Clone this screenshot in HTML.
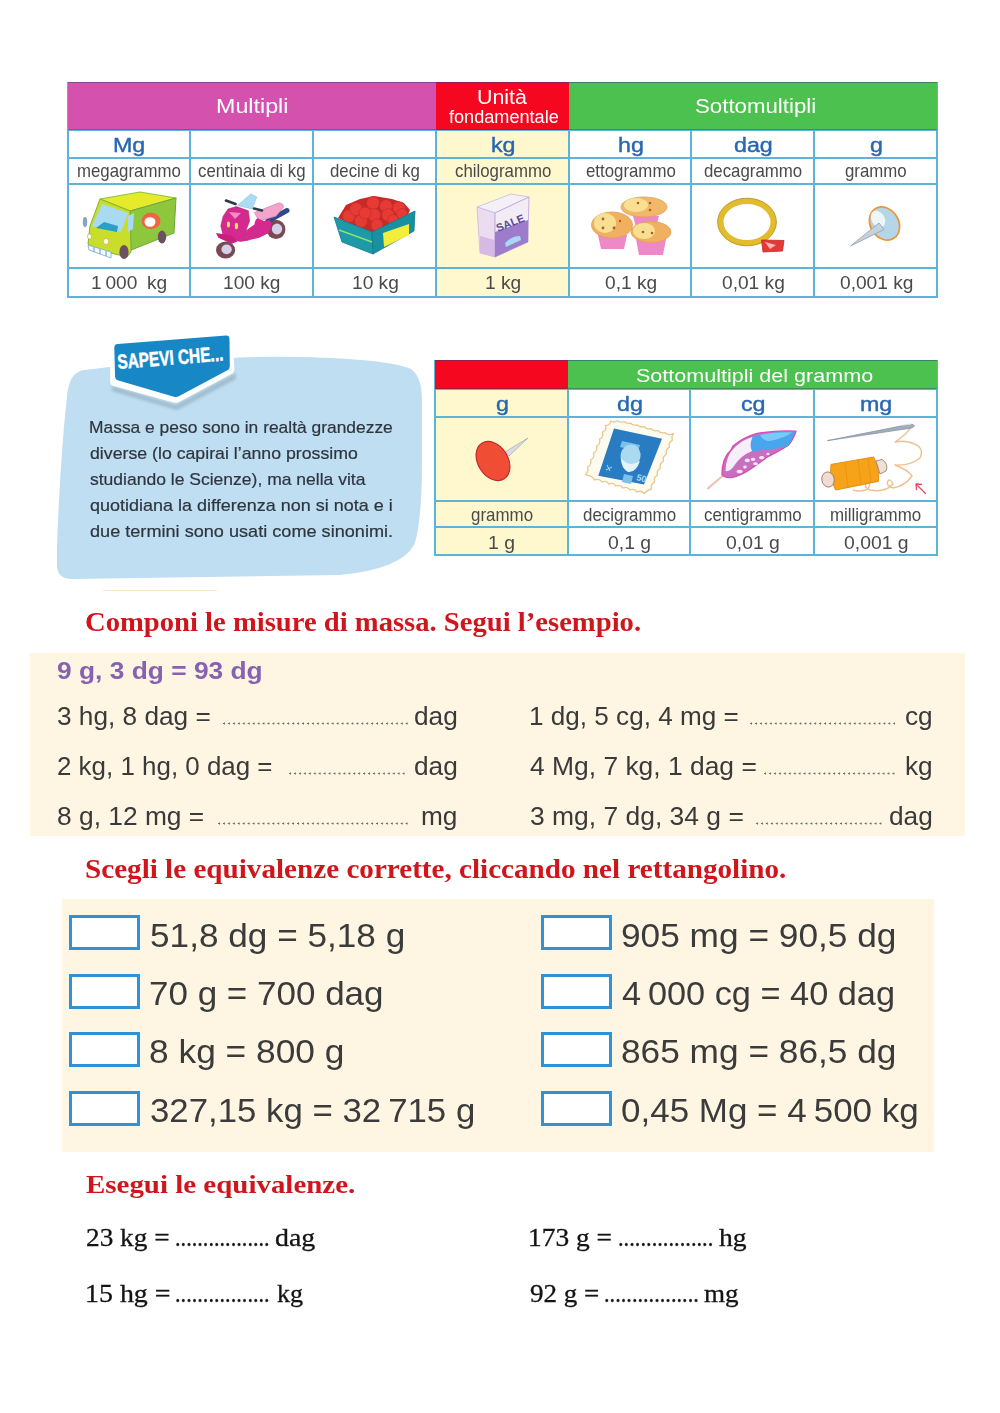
<!DOCTYPE html>
<html><head><meta charset="utf-8"><title>Massa</title><style>
*{margin:0;padding:0}
html,body{width:1000px;height:1413px;background:#fff;overflow:hidden}
body{position:relative;font-family:"Liberation Sans",sans-serif}
.a{position:absolute}
.t{position:absolute;white-space:nowrap;transform-origin:0 0}
</style></head><body>
<div class="a" style="left:436.00px;top:129.00px;width:133.00px;height:168.00px;background:#fff8cf;"></div>
<svg class="a" style="left:0;top:0" width="1000" height="300" viewBox="0 0 1000 300">
<g stroke-linejoin="round">
 <!-- van -->
 <path d="M100 199 L140 192 L176 198 L130 211 Z" fill="#e6ea2c" stroke="#8cc63f" stroke-width="1.2"/>
 <path d="M130 211 L176 198 L174 233 L131 250 Z" fill="#8ec63d" stroke="#6aa83a" stroke-width="1"/>
 <path d="M100 199 L130 211 L131 252 L127 257 L95 249 L88 244 L90 226 Z" fill="#c9de2a" stroke="#7fb43a" stroke-width="1"/>
 <path d="M92 226 L102 204 L128 213 L121 232 Z" fill="#a8daf2"/>
 <path d="M96 228 L104 222 L118 226 L117 232 Z" fill="#2aa0c8"/>
 <path d="M128 216 L134 213 L133 229 L128 232 Z" fill="#a8daf2"/>
 <ellipse cx="151" cy="221" rx="9.5" ry="8.3" fill="#ee6544"/>
 <ellipse cx="150" cy="222" rx="5.5" ry="4.8" fill="#fff"/>
 <path d="M88 245 L111 252 L111 258 L89 250 Z" fill="#f4f8fa" stroke="#7aa8c8" stroke-width="0.8"/>
 <path d="M94 247 L94 252 M100 249 L100 254 M106 251 L106 256" stroke="#5aa0c8" stroke-width="1"/>
 <ellipse cx="89.5" cy="236.5" rx="2.2" ry="2.6" fill="#fff" stroke="#c8a040" stroke-width="0.6"/>
 <ellipse cx="106" cy="241.5" rx="2.6" ry="3" fill="#fff" stroke="#c8a040" stroke-width="0.6"/>
 <ellipse cx="124" cy="252" rx="4.6" ry="7" fill="#6a5262"/>
 <ellipse cx="162" cy="237" rx="4.2" ry="6.4" fill="#6a5262"/>
 <ellipse cx="85" cy="222" rx="2.2" ry="5" fill="#8aa0c8"/>
 <!-- scooter -->
 <ellipse cx="276" cy="229.4" rx="9.4" ry="9.6" fill="#7a4a52"/>
 <ellipse cx="277" cy="229" rx="5.2" ry="5.4" fill="#d4d0e8"/>
 <path d="M237.6 205.4 L250.8 194 L256.8 197 L252 209 Z" fill="#aadcf4" stroke="#88c0e0" stroke-width="0.6"/>
 <path d="M268 221 L287 210.5" stroke="#2e4a86" stroke-width="5" stroke-linecap="round"/>
 <path d="M254.4 212.6 L278.4 203 Q284 203 283.2 207.6 L276 216.2 L259.2 221 Z" fill="#f3a4cc" stroke="#d870a8" stroke-width="0.6"/>
 <path d="M246 230.6 L254.4 224.6 Q256 216 259.2 219 L264 221 L270 220 Q273 226 268.8 233 L259.2 237.8 L248.4 240.2 Z" fill="#d42a8e"/>
 <path d="M228 209 L236.4 206.6 L248.4 210.8 L249.6 221 L246 230.6 L248.4 240.2 L240 241.4 L231.6 239 L223.2 235.4 L220.8 225.8 L223.2 216.2 Z" fill="#d42a8e" stroke="#b81e78" stroke-width="0.6"/>
 <path d="M229 212 L241 213 L235 219 Z" fill="#f48cc4"/>
 <path d="M216 233 L231.6 235.4 L237.6 241.4 L231.6 243.8 L218.4 237.8 Z" fill="#c8207e"/>
 <ellipse cx="225.6" cy="250" rx="9.6" ry="8.6" fill="#7a4a52"/>
 <ellipse cx="226.6" cy="249.4" rx="5.2" ry="4.8" fill="#d4d0e8"/>
 <path d="M226 200.5 L235.5 204 M254 208.5 L262 210.5" stroke="#2a3a4a" stroke-width="2.6" stroke-linecap="round"/>
 <ellipse cx="228.4" cy="224.6" rx="1.5" ry="3" fill="#f8e070"/>
 <ellipse cx="236.4" cy="226" rx="1.6" ry="3.2" fill="#f8e070"/>
 <!-- apples box -->
 <path d="M334 217 L372 232 L415 211 L413 226 L373 248 Z" fill="#1a94a4"/>
 <path d="M338 218 L346 205 L360 199 L374 196 L392 199 L404 203 L410 210 L405 222 L373 234 Z" fill="#c82a2a"/>
 <g fill="#e63b35" stroke="#c42828" stroke-width="0.6">
  <circle cx="349" cy="216" r="6.5"/><circle cx="356" cy="209" r="6.5"/><circle cx="373" cy="203" r="6.5"/>
  <circle cx="386" cy="206" r="6.3"/><circle cx="399" cy="208" r="6.3"/><circle cx="361" cy="221" r="6.5"/>
  <circle cx="374" cy="215" r="6.5"/><circle cx="388" cy="215" r="6.3"/><circle cx="402" cy="214" r="5.5"/>
  <circle cx="377" cy="225" r="6"/><circle cx="365" cy="213" r="6"/><circle cx="393" cy="220" r="5.5"/>
 </g>
 <path d="M334 217 L372 232 L373 254 L342 242 Z" fill="#1d9aa8" stroke="#147a88" stroke-width="0.8"/>
 <path d="M372 232 L415 211 L414 231 L373 254 Z" fill="#1790a2" stroke="#147a88" stroke-width="0.8"/>
 <path d="M339 230 L372 242" stroke="#8ee07a" stroke-width="1.6"/>
 <path d="M383 233 L409 224 L409 235 L384 247 Z" fill="#f2ee3a"/>
 <!-- salt box -->
 <path d="M477 207 L511 194 L529 197 L495 213 Z" fill="#f4f0f8" stroke="#c8b8e0" stroke-width="0.8"/>
 <path d="M477 207 L495 213 L495 257 L480 253 Z" fill="#ecdcf0" stroke="#c8b8e0" stroke-width="0.8"/>
 <path d="M480 236 L495 240 L495 257 L480 253 Z" fill="#d8b8e4"/>
 <path d="M495 213 L529 197 L528 242 L495 257 Z" fill="#f2ecf4" stroke="#b8a0d8" stroke-width="0.8"/>
 <path d="M495 232 L528 220 L528 242 L495 257 Z" fill="#9e7ccc"/>
 <path d="M505 243 Q512 236 520 236 L521 240 L506 247 Z" fill="#a8d8f4"/>
 <text x="498" y="232" transform="rotate(-22 498 232)" font-family="Liberation Sans" font-weight="bold" font-size="11" fill="#5a4a9a">SALE</text>
 <!-- muffins -->
 <path d="M633 216 L659 216 L656 227 L636 227 Z" fill="#ee88c8"/>
 <ellipse cx="644" cy="207" rx="23" ry="10" fill="#f0b868" stroke="#e0a060" stroke-width="0.8"/>
 <ellipse cx="636" cy="205" rx="12" ry="7" fill="#f8df92"/>
 <path d="M598 235 L627 235 L624 249 L601 249 Z" fill="#ee88c8"/>
 <ellipse cx="612" cy="225" rx="20.5" ry="13" fill="#f0b060" stroke="#e0a060" stroke-width="0.8"/>
 <ellipse cx="605" cy="223" rx="11" ry="10" fill="#f8df92"/>
 <path d="M636 239 L666 239 L663 255 L639 255 Z" fill="#ee88c8"/>
 <ellipse cx="651" cy="232" rx="20" ry="10.5" fill="#f0b060" stroke="#e0a060" stroke-width="0.8"/>
 <ellipse cx="644" cy="231" rx="11" ry="8" fill="#f8df92"/>
 <g fill="#a8602a"><circle cx="603" cy="219" r="1.4"/><circle cx="603" cy="228" r="1.4"/><circle cx="614" cy="228" r="1.4"/><circle cx="620" cy="221" r="1.2"/><circle cx="638" cy="203" r="1.3"/><circle cx="650" cy="203" r="1.3"/><circle cx="650" cy="210" r="1.3"/><circle cx="643" cy="232" r="1.3"/><circle cx="652" cy="233" r="1.3"/></g>
 <!-- ring -->
 <ellipse cx="747" cy="222" rx="26.5" ry="21" fill="none" stroke="#e2bc2c" stroke-width="6"/>
 <ellipse cx="747" cy="222" rx="29.4" ry="23.8" fill="none" stroke="#b8922a" stroke-width="0.8"/>
 <path d="M761.5 240 L784 240.5 L782.5 251 L763 252 Z" fill="#e23a36" stroke="#c02828" stroke-width="0.8"/>
 <path d="M765 242 L776 245 L770 249 Z" fill="#f8b8b0"/>
 <!-- pushpin t1 -->
 <ellipse cx="884.5" cy="223.5" rx="14" ry="17.5" transform="rotate(-32 884.5 223.5)" fill="#b4d6e8" stroke="#ec963a" stroke-width="1.8"/>
 <ellipse cx="878" cy="219" rx="6.5" ry="9" transform="rotate(-32 878 219)" fill="#eef6fa"/>
 <path d="M850.5 246 L879 223 L884 229.5 Z" fill="#c4d2dc" stroke="#96a6b4" stroke-width="0.9"/>
</g>
</svg>
<div class="a" style="left:67.00px;top:128.00px;width:871.00px;height:2.00px;background:#5db3d8;"></div>
<div class="a" style="left:67.00px;top:157.00px;width:871.00px;height:2.00px;background:#5db3d8;"></div>
<div class="a" style="left:67.00px;top:183.00px;width:871.00px;height:2.00px;background:#5db3d8;"></div>
<div class="a" style="left:67.00px;top:267.00px;width:871.00px;height:2.00px;background:#5db3d8;"></div>
<div class="a" style="left:67.00px;top:296.00px;width:871.00px;height:2.00px;background:#5db3d8;"></div>
<div class="a" style="left:67.00px;top:128.00px;width:2.00px;height:170.00px;background:#5db3d8;"></div>
<div class="a" style="left:189.00px;top:128.00px;width:2.00px;height:170.00px;background:#5db3d8;"></div>
<div class="a" style="left:312.00px;top:128.00px;width:2.00px;height:170.00px;background:#5db3d8;"></div>
<div class="a" style="left:435.00px;top:128.00px;width:2.00px;height:170.00px;background:#5db3d8;"></div>
<div class="a" style="left:568.00px;top:128.00px;width:2.00px;height:170.00px;background:#5db3d8;"></div>
<div class="a" style="left:690.00px;top:128.00px;width:2.00px;height:170.00px;background:#5db3d8;"></div>
<div class="a" style="left:813.00px;top:128.00px;width:2.00px;height:170.00px;background:#5db3d8;"></div>
<div class="a" style="left:936.00px;top:128.00px;width:2.00px;height:170.00px;background:#5db3d8;"></div>
<div class="a" style="left:67.00px;top:81.50px;width:871.00px;height:49.00px;background:#5db3d8;"></div>
<div class="a" style="left:68.00px;top:82.00px;width:368.00px;height:48.00px;background:#d452ad;"></div>
<div class="a" style="left:436.00px;top:82.00px;width:133.00px;height:48.00px;background:#f4071f;"></div>
<div class="a" style="left:569.00px;top:82.00px;width:368.00px;height:48.00px;background:#4cc14f;"></div>
<div class="a" style="left:68.00px;top:82.00px;width:869.00px;height:1.20px;background:rgba(30,60,130,0.45);"></div>
<div class="a" style="left:68.00px;top:128.80px;width:869.00px;height:1.20px;background:rgba(30,60,110,0.35);"></div>
<div class="t" style="left:215.94px;top:96.94px;font-family:'Liberation Sans',sans-serif;font-weight:normal;font-size:19.5px;line-height:19.5px;color:#fff;transform:scaleX(1.1934)">Multipli</div>
<div class="t" style="left:694.65px;top:96.94px;font-family:'Liberation Sans',sans-serif;font-weight:normal;font-size:19.5px;line-height:19.5px;color:#fff;transform:scaleX(1.1410)">Sottomultipli</div>
<div class="t" style="left:477.25px;top:87.94px;font-family:'Liberation Sans',sans-serif;font-weight:normal;font-size:19.5px;line-height:19.5px;color:#fff;transform:scaleX(1.0960)">Unità</div>
<div class="t" style="left:448.93px;top:108.16px;font-family:'Liberation Sans',sans-serif;font-weight:normal;font-size:18.3px;line-height:18.3px;color:#fff;transform:scaleX(0.9909)">fondamentale</div>
<div class="t" style="left:113.17px;top:135.02px;font-family:'Liberation Sans',sans-serif;font-weight:normal;-webkit-text-stroke:0.4px #2767b0;font-size:20px;line-height:20px;color:#2767b0;transform:scaleX(1.1619)">Mg</div>
<div class="t" style="left:77.39px;top:161.79px;font-family:'Liberation Sans',sans-serif;font-weight:normal;font-size:18.5px;line-height:18.5px;color:#4a4a4a;transform:scaleX(0.9093)">megagrammo</div>
<div class="t" style="left:91.31px;top:273.36px;font-family:'Liberation Sans',sans-serif;font-weight:normal;font-size:19px;line-height:19px;color:#4a4a4a;transform:scaleX(1.0075)">1 000 kg</div>
<div class="t" style="left:198.46px;top:161.79px;font-family:'Liberation Sans',sans-serif;font-weight:normal;font-size:18.5px;line-height:18.5px;color:#4a4a4a;transform:scaleX(0.9093)">centinaia di kg</div>
<div class="t" style="left:223.19px;top:273.36px;font-family:'Liberation Sans',sans-serif;font-weight:normal;font-size:19px;line-height:19px;color:#4a4a4a;transform:scaleX(1.0075)">100 kg</div>
<div class="t" style="left:330.34px;top:161.79px;font-family:'Liberation Sans',sans-serif;font-weight:normal;font-size:18.5px;line-height:18.5px;color:#4a4a4a;transform:scaleX(0.9093)">decine di kg</div>
<div class="t" style="left:351.50px;top:273.36px;font-family:'Liberation Sans',sans-serif;font-weight:normal;font-size:19px;line-height:19px;color:#4a4a4a;transform:scaleX(1.0075)">10 kg</div>
<div class="t" style="left:490.74px;top:135.02px;font-family:'Liberation Sans',sans-serif;font-weight:normal;-webkit-text-stroke:0.4px #2767b0;font-size:20px;line-height:20px;color:#2767b0;transform:scaleX(1.1619)">kg</div>
<div class="t" style="left:454.85px;top:161.79px;font-family:'Liberation Sans',sans-serif;font-weight:normal;font-size:18.5px;line-height:18.5px;color:#4a4a4a;transform:scaleX(0.9093)">chilogrammo</div>
<div class="t" style="left:484.81px;top:273.36px;font-family:'Liberation Sans',sans-serif;font-weight:normal;font-size:19px;line-height:19px;color:#4a4a4a;transform:scaleX(1.0075)">1 kg</div>
<div class="t" style="left:617.54px;top:135.02px;font-family:'Liberation Sans',sans-serif;font-weight:normal;-webkit-text-stroke:0.4px #2767b0;font-size:20px;line-height:20px;color:#2767b0;transform:scaleX(1.1619)">hg</div>
<div class="t" style="left:585.63px;top:161.79px;font-family:'Liberation Sans',sans-serif;font-weight:normal;font-size:18.5px;line-height:18.5px;color:#4a4a4a;transform:scaleX(0.9093)">ettogrammo</div>
<div class="t" style="left:604.66px;top:273.36px;font-family:'Liberation Sans',sans-serif;font-weight:normal;font-size:19px;line-height:19px;color:#4a4a4a;transform:scaleX(1.0075)">0,1 kg</div>
<div class="t" style="left:733.94px;top:135.02px;font-family:'Liberation Sans',sans-serif;font-weight:normal;-webkit-text-stroke:0.4px #2767b0;font-size:20px;line-height:20px;color:#2767b0;transform:scaleX(1.1619)">dag</div>
<div class="t" style="left:703.92px;top:161.79px;font-family:'Liberation Sans',sans-serif;font-weight:normal;font-size:18.5px;line-height:18.5px;color:#4a4a4a;transform:scaleX(0.9093)">decagrammo</div>
<div class="t" style="left:721.84px;top:273.36px;font-family:'Liberation Sans',sans-serif;font-weight:normal;font-size:19px;line-height:19px;color:#4a4a4a;transform:scaleX(1.0075)">0,01 kg</div>
<div class="t" style="left:869.84px;top:135.02px;font-family:'Liberation Sans',sans-serif;font-weight:normal;-webkit-text-stroke:0.4px #2767b0;font-size:20px;line-height:20px;color:#2767b0;transform:scaleX(1.1619)">g</div>
<div class="t" style="left:845.17px;top:161.79px;font-family:'Liberation Sans',sans-serif;font-weight:normal;font-size:18.5px;line-height:18.5px;color:#4a4a4a;transform:scaleX(0.9093)">grammo</div>
<div class="t" style="left:839.53px;top:273.36px;font-family:'Liberation Sans',sans-serif;font-weight:normal;font-size:19px;line-height:19px;color:#4a4a4a;transform:scaleX(1.0075)">0,001 kg</div>
<div class="a" style="left:435.00px;top:388.00px;width:133.00px;height:167.00px;background:#fff8cf;"></div>
<svg class="a" style="left:0;top:400px" width="1000" height="110" viewBox="0 400 1000 110">
<g stroke-linejoin="round">
 <!-- red pin -->
 <path d="M505 452 L528 438 L509 456 Z" fill="#d8dde2" stroke="#a8b0b8" stroke-width="0.8"/>
 <ellipse cx="493" cy="461" rx="15" ry="21" transform="rotate(-32 493 461)" fill="#f04e34" stroke="#c0282a" stroke-width="1.2"/>
 <!-- stamp -->
 <path d="M617.4 420.8 Q621 423 624 421.5 Q627 424 630.5 423 Q633 426 637 424.8 Q640 428 644 426.5 Q647 430 651 428.5 Q654 432 658 430.5 Q661 434 665 432.5 Q668 436 673.5 433.6 Q671 437 672.5 440 Q668 443 669.5 447 Q665 450 666.5 454 Q662 457 663.5 461 Q659 464 660.5 468 Q656 471 657.5 475 Q653 478 654.5 482 Q650 485 651.5 489 Q647 490 644.2 493.5 Q641 490 637 492 Q634 488 630 490 Q627 486 623 488 Q620 484 616 486 Q613 482 609 484 Q606 480 602 482 Q599 478 595 480 Q592 476 585.5 474.4 Q589 471 587.5 467 Q592 465 590.5 460 Q595 458 593.5 453 Q598 451 596.5 446 Q601 444 599.5 439 Q604 437 602.5 432 Q607 430 605.5 425.5 Q611 425 610.5 421 Q614 423 617.4 420.8 Z" fill="#fdfaf0" stroke="#e6c88c" stroke-width="1.3"/>
 <path d="M614 428.5 L662 438.7 L644 484.6 L598.3 475.7 Z" fill="#2a7cc2"/>
 <path d="M622 441 L640 445 L638 451 L620 447 Z" fill="#7cc0ec"/>
 <ellipse cx="630.5" cy="456" rx="10" ry="11.5" transform="rotate(12 630.5 456)" fill="#a9daf2"/>
 <path d="M621 458 Q629 468 640 461 Q636 473 628 472 Q621 468 621 458 Z" fill="#e4f4fc"/>
 <path d="M624 474 L633 476 L631 484 L622 482 Z" fill="#7cc0ec"/>
 <text x="636" y="480" font-family="Liberation Sans" font-weight="bold" font-size="9" fill="#a9daf2" transform="rotate(14 636 480)">50</text>
 <path d="M606 470 L612 467 M607 465 L610 471" stroke="#a9daf2" stroke-width="1"/>
 <!-- feather -->
 <path d="M708 488.4 L723 475.5" stroke="#ecc6b4" stroke-width="2.2" stroke-linecap="round"/>
 <path d="M722 474.5 Q722 458 731 450 L733 446 Q744 437 757 433.4 Q777 430 796 431.2 Q793 440 788 445.5 Q778 452 768 456.5 Q758 464 749.5 469.7 Q740 476 731 477.6 Q724 478 722 474.5 Z" fill="#c870c0" stroke="#d24eb2" stroke-width="1.4"/>
 <path d="M752.5 436.8 Q775 430.5 795 431.4 Q792 440 788 446.2 Q770 450 752 451.2 Q748 444 752.5 436.8 Z" fill="#48a6ee"/>
 <path d="M760 435 Q778 431.5 792 432.5 Q785 438 770 441 Q763 441 760 435 Z" fill="#7cc8f8"/>
 <path d="M725.5 471 Q726 455 735 447 Q744 439 752.5 437 Q749 445 752 451 Q740 456 734 466 Q730 472 725.5 471 Z" fill="#f6eef8"/>
 <g fill="#f6e8f6"><ellipse cx="747.3" cy="460.4" rx="2.6" ry="1.8"/><ellipse cx="753" cy="459.3" rx="2.3" ry="1.6"/><ellipse cx="761.6" cy="457.6" rx="2.6" ry="1.7"/><ellipse cx="755.5" cy="463.7" rx="2.3" ry="1.5"/><ellipse cx="739.6" cy="471.5" rx="3" ry="1.8"/><ellipse cx="745" cy="467" rx="1.8" ry="1.4"/><ellipse cx="768" cy="454" rx="1.6" ry="1.2"/></g>
 <!-- needle & thread -->
 <path d="M912.5 425.3 Q905 436 895 442 Q905 440 912 443 Q925 447 920 458 Q910 466 895 465 Q908 470 912 476 Q905 486 893 488 Q885 485 888 481 Q890 478 893 484 Q885 493 870 490 Q862 486 868 482 Q872 486 866 490 Q858 492 853 490" stroke="#f0bf92" stroke-width="1.4" fill="none"/>
 <path d="M827.5 440.6 L910 424.2 Q914 424 914.5 426 Q913 428 910 428.3 Z" fill="#a0acbc" stroke="#8896a8" stroke-width="0.8"/>
 <path d="M902 425.2 L911 424.3" stroke="#e8eef4" stroke-width="0.8"/>
 <path d="M831 464.4 L873.6 457 Q880 468 878.4 481.4 L835.7 490 Q829 478 831 464.4 Z" fill="#f6a31a" stroke="#e2880e" stroke-width="0.9"/>
 <path d="M876 461 L882 459.5 Q889 464 886 471 L880 474 Z" fill="#efe0d6" stroke="#9a8078" stroke-width="0.9"/>
 <path d="M845 462 L848 488 M858 459.5 L861 485.5 M868 458 L871 483" stroke="#ee9212" stroke-width="1"/>
 <ellipse cx="828" cy="479.5" rx="6.2" ry="7.6" transform="rotate(-10 828 479.5)" fill="#f0dcd2" stroke="#9a7a70" stroke-width="0.9"/>
 <path d="M916 484 L925.5 493.5 M916 484 L916.5 489.5 M916 484 L921.5 484.5" stroke="#e44a64" stroke-width="1.3" stroke-linecap="round"/>
</g>
</svg>
<div class="a" style="left:434.00px;top:387.00px;width:504.00px;height:2.00px;background:#5db3d8;"></div>
<div class="a" style="left:434.00px;top:416.00px;width:504.00px;height:2.00px;background:#5db3d8;"></div>
<div class="a" style="left:434.00px;top:500.00px;width:504.00px;height:2.00px;background:#5db3d8;"></div>
<div class="a" style="left:434.00px;top:526.00px;width:504.00px;height:2.00px;background:#5db3d8;"></div>
<div class="a" style="left:434.00px;top:554.00px;width:504.00px;height:2.00px;background:#5db3d8;"></div>
<div class="a" style="left:434.00px;top:387.00px;width:2.00px;height:169.00px;background:#5db3d8;"></div>
<div class="a" style="left:567.00px;top:387.00px;width:2.00px;height:169.00px;background:#5db3d8;"></div>
<div class="a" style="left:689.00px;top:387.00px;width:2.00px;height:169.00px;background:#5db3d8;"></div>
<div class="a" style="left:813.00px;top:387.00px;width:2.00px;height:169.00px;background:#5db3d8;"></div>
<div class="a" style="left:936.00px;top:387.00px;width:2.00px;height:169.00px;background:#5db3d8;"></div>
<div class="a" style="left:434.00px;top:359.50px;width:504.00px;height:30.00px;background:#5db3d8;"></div>
<div class="a" style="left:435.00px;top:360.00px;width:133.00px;height:29.00px;background:#f4071f;"></div>
<div class="a" style="left:568.00px;top:360.00px;width:369.00px;height:29.00px;background:#4cc14f;"></div>
<div class="a" style="left:435.00px;top:360.00px;width:502.00px;height:1.20px;background:rgba(30,60,130,0.45);"></div>
<div class="a" style="left:435.00px;top:387.80px;width:502.00px;height:1.20px;background:rgba(30,60,110,0.35);"></div>
<div class="t" style="left:636.38px;top:366.36px;font-family:'Liberation Sans',sans-serif;font-weight:normal;font-size:19px;line-height:19px;color:#fff;transform:scaleX(1.1341)">Sottomultipli del grammo</div>
<div class="t" style="left:495.84px;top:394.02px;font-family:'Liberation Sans',sans-serif;font-weight:normal;-webkit-text-stroke:0.4px #2767b0;font-size:20px;line-height:20px;color:#2767b0;transform:scaleX(1.1619)">g</div>
<div class="t" style="left:471.00px;top:505.99px;font-family:'Liberation Sans',sans-serif;font-weight:normal;font-size:18.5px;line-height:18.5px;color:#4a4a4a;transform:scaleX(0.9144)">grammo</div>
<div class="t" style="left:488.44px;top:533.36px;font-family:'Liberation Sans',sans-serif;font-weight:normal;font-size:19px;line-height:19px;color:#4a4a4a;transform:scaleX(1.0195)">1 g</div>
<div class="t" style="left:616.89px;top:394.02px;font-family:'Liberation Sans',sans-serif;font-weight:normal;-webkit-text-stroke:0.4px #2767b0;font-size:20px;line-height:20px;color:#2767b0;transform:scaleX(1.1619)">dg</div>
<div class="t" style="left:582.98px;top:505.99px;font-family:'Liberation Sans',sans-serif;font-weight:normal;font-size:18.5px;line-height:18.5px;color:#4a4a4a;transform:scaleX(0.9144)">decigrammo</div>
<div class="t" style="left:608.19px;top:533.36px;font-family:'Liberation Sans',sans-serif;font-weight:normal;font-size:19px;line-height:19px;color:#4a4a4a;transform:scaleX(1.0195)">0,1 g</div>
<div class="t" style="left:740.53px;top:394.02px;font-family:'Liberation Sans',sans-serif;font-weight:normal;-webkit-text-stroke:0.4px #2767b0;font-size:20px;line-height:20px;color:#2767b0;transform:scaleX(1.1619)">cg</div>
<div class="t" style="left:703.61px;top:505.99px;font-family:'Liberation Sans',sans-serif;font-weight:normal;font-size:18.5px;line-height:18.5px;color:#4a4a4a;transform:scaleX(0.9144)">centigrammo</div>
<div class="t" style="left:725.82px;top:533.36px;font-family:'Liberation Sans',sans-serif;font-weight:normal;font-size:19px;line-height:19px;color:#4a4a4a;transform:scaleX(1.0195)">0,01 g</div>
<div class="t" style="left:859.85px;top:394.02px;font-family:'Liberation Sans',sans-serif;font-weight:normal;-webkit-text-stroke:0.4px #2767b0;font-size:20px;line-height:20px;color:#2767b0;transform:scaleX(1.1619)">mg</div>
<div class="t" style="left:830.20px;top:505.99px;font-family:'Liberation Sans',sans-serif;font-weight:normal;font-size:18.5px;line-height:18.5px;color:#4a4a4a;transform:scaleX(0.9144)">milligrammo</div>
<div class="t" style="left:843.94px;top:533.36px;font-family:'Liberation Sans',sans-serif;font-weight:normal;font-size:19px;line-height:19px;color:#4a4a4a;transform:scaleX(1.0195)">0,001 g</div>

<svg class="a" style="left:0;top:0" width="1000" height="620" viewBox="0 0 1000 620">
  <path d="M84 370 Q200 355 300 357 Q388 359 411 369 Q422 377 422 400 L422 470 Q421 528 414 545 Q401 569 340 575 L72 579 Q57 579 57 565 L57 548 Q60 460 67 396 Q69 372 84 370 Z" fill="#bfdef1"/>
  <defs><filter id="bl" x="-20%" y="-20%" width="140%" height="140%"><feGaussianBlur stdDeviation="1.6"/></filter></defs>
  <path d="M112 386 L176 405 L236 373 L236 379 L177 410 L112 391 Z" fill="#345" opacity="0.22" filter="url(#bl)"/>
  <path d="M110 345 Q110 341 114 340.7 L229 332 Q233 331.8 233.3 336 L234.3 369 Q234.4 372.5 231.5 374 L179.5 401.8 Q176.6 403.4 173.5 402.5 L113.5 386 Q110.2 385 110.2 381.5 Z" fill="#fff"/>
  <path d="M114.3 348 Q114.2 344.2 117.8 344 L226 335.6 Q229.4 335.4 229.5 339 L229.8 366 Q229.8 369 227.4 370.3 L178.3 396.6 Q176.6 397.4 174.8 396.9 L117.6 380.2 Q115.2 379.4 115.1 376.8 Z" fill="#1887c5"/>
  <text x="118" y="369" transform="rotate(-4.6 118 369)" fill="#fff" font-family="Liberation Sans" font-weight="bold" font-size="20.5" stroke="#fff" stroke-width="0.5" textLength="106" lengthAdjust="spacingAndGlyphs">SAPEVI CHE...</text>
</svg>

<div class="t" style="left:89.01px;top:419.06px;font-family:'Liberation Sans',sans-serif;font-weight:normal;-webkit-text-stroke:0.2px #2e353e;font-size:17px;line-height:17px;color:#2e353e;transform:scaleX(1.0237)">Massa e peso sono in realtà grandezze</div>
<div class="t" style="left:89.69px;top:444.96px;font-family:'Liberation Sans',sans-serif;font-weight:normal;-webkit-text-stroke:0.2px #2e353e;font-size:17px;line-height:17px;color:#2e353e;transform:scaleX(1.0423)">diverse (lo capirai l’anno prossimo</div>
<div class="t" style="left:89.87px;top:470.86px;font-family:'Liberation Sans',sans-serif;font-weight:normal;-webkit-text-stroke:0.2px #2e353e;font-size:17px;line-height:17px;color:#2e353e;transform:scaleX(1.0300)">studiando le Scienze), ma nella vita</div>
<div class="t" style="left:89.68px;top:496.76px;font-family:'Liberation Sans',sans-serif;font-weight:normal;-webkit-text-stroke:0.2px #2e353e;font-size:17px;line-height:17px;color:#2e353e;transform:scaleX(1.0579)">quotidiana la differenza non si nota e i</div>
<div class="t" style="left:89.68px;top:522.66px;font-family:'Liberation Sans',sans-serif;font-weight:normal;-webkit-text-stroke:0.2px #2e353e;font-size:17px;line-height:17px;color:#2e353e;transform:scaleX(1.0656)">due termini sono usati come sinonimi.</div>
<div class="a" style="left:103.00px;top:589.50px;width:114.00px;height:1.50px;background:#fbe9c8;"></div>
<div class="t" style="left:85.27px;top:609.06px;font-family:'Liberation Serif',serif;font-weight:bold;font-size:26.5px;line-height:26.5px;color:#d0161c;transform:scaleX(1.0801)">Componi le misure di massa. Segui l’esempio.</div>
<div class="a" style="left:30.00px;top:653.00px;width:935.00px;height:183.00px;background:#fef6e3;"></div>
<div class="t" style="left:57.08px;top:659.13px;font-family:'Liberation Sans',sans-serif;font-weight:bold;font-size:24px;line-height:24px;color:#8862b2;transform:scaleX(1.0978)">9 g, 3 dg = 93 dg</div>
<div class="t" style="left:56.95px;top:704.28px;font-family:'Liberation Sans',sans-serif;font-weight:normal;font-size:25px;line-height:25px;color:#3a3a3a;transform:scaleX(1.0487)">3 hg, 8 dag =</div>
<div class="a" style="left:222.60px;top:721.50px;width:185.20px;height:3.00px;background:radial-gradient(circle at 1.3px 1.5px,#6c6c6c 0.85px,transparent 1.2px) 0 0/4.95px 3px;"></div>
<div class="t" style="left:414.01px;top:704.28px;font-family:'Liberation Sans',sans-serif;font-weight:normal;font-size:25px;line-height:25px;color:#3a3a3a;transform:scaleX(1.0497)">dag</div>
<div class="t" style="left:56.70px;top:754.28px;font-family:'Liberation Sans',sans-serif;font-weight:normal;font-size:25px;line-height:25px;color:#3a3a3a;transform:scaleX(1.0371)">2 kg, 1 hg, 0 dag =</div>
<div class="a" style="left:288.60px;top:771.50px;width:118.80px;height:3.00px;background:radial-gradient(circle at 1.3px 1.5px,#6c6c6c 0.85px,transparent 1.2px) 0 0/4.95px 3px;"></div>
<div class="t" style="left:414.01px;top:754.28px;font-family:'Liberation Sans',sans-serif;font-weight:normal;font-size:25px;line-height:25px;color:#3a3a3a;transform:scaleX(1.0497)">dag</div>
<div class="t" style="left:56.81px;top:804.28px;font-family:'Liberation Sans',sans-serif;font-weight:normal;font-size:25px;line-height:25px;color:#3a3a3a;transform:scaleX(1.0540)">8 g, 12 mg =</div>
<div class="a" style="left:218.00px;top:821.50px;width:191.60px;height:3.00px;background:radial-gradient(circle at 1.3px 1.5px,#6c6c6c 0.85px,transparent 1.2px) 0 0/4.95px 3px;"></div>
<div class="t" style="left:421.23px;top:804.28px;font-family:'Liberation Sans',sans-serif;font-weight:normal;font-size:25px;line-height:25px;color:#3a3a3a;transform:scaleX(1.0497)">mg</div>
<div class="t" style="left:529.04px;top:704.28px;font-family:'Liberation Sans',sans-serif;font-weight:normal;font-size:25px;line-height:25px;color:#3a3a3a;transform:scaleX(1.0442)">1 dg, 5 cg, 4 mg =</div>
<div class="a" style="left:750.00px;top:721.50px;width:145.00px;height:3.00px;background:radial-gradient(circle at 1.3px 1.5px,#6c6c6c 0.85px,transparent 1.2px) 0 0/4.95px 3px;"></div>
<div class="t" style="left:905.02px;top:704.28px;font-family:'Liberation Sans',sans-serif;font-weight:normal;font-size:25px;line-height:25px;color:#3a3a3a;transform:scaleX(1.0497)">cg</div>
<div class="t" style="left:530.47px;top:754.28px;font-family:'Liberation Sans',sans-serif;font-weight:normal;font-size:25px;line-height:25px;color:#3a3a3a;transform:scaleX(1.0563)">4 Mg, 7 kg, 1 dag =</div>
<div class="a" style="left:764.00px;top:771.50px;width:131.00px;height:3.00px;background:radial-gradient(circle at 1.3px 1.5px,#6c6c6c 0.85px,transparent 1.2px) 0 0/4.95px 3px;"></div>
<div class="t" style="left:905.02px;top:754.28px;font-family:'Liberation Sans',sans-serif;font-weight:normal;font-size:25px;line-height:25px;color:#3a3a3a;transform:scaleX(1.0497)">kg</div>
<div class="t" style="left:529.94px;top:804.28px;font-family:'Liberation Sans',sans-serif;font-weight:normal;font-size:25px;line-height:25px;color:#3a3a3a;transform:scaleX(1.0575)">3 mg, 7 dg, 34 g =</div>
<div class="a" style="left:756.00px;top:821.50px;width:126.50px;height:3.00px;background:radial-gradient(circle at 1.3px 1.5px,#6c6c6c 0.85px,transparent 1.2px) 0 0/4.95px 3px;"></div>
<div class="t" style="left:889.01px;top:804.28px;font-family:'Liberation Sans',sans-serif;font-weight:normal;font-size:25px;line-height:25px;color:#3a3a3a;transform:scaleX(1.0497)">dag</div>
<div class="t" style="left:85.00px;top:856.46px;font-family:'Liberation Serif',serif;font-weight:bold;font-size:26.5px;line-height:26.5px;color:#d0161c;transform:scaleX(1.0995)">Scegli le equivalenze corrette, cliccando nel rettangolino.</div>
<div class="a" style="left:62.00px;top:899.00px;width:872.00px;height:253.00px;background:#fef6e3;"></div>
<div class="a" style="left:69.00px;top:915.00px;width:71.00px;height:35.00px;background:#fff;border:3px solid #2f92d6;box-sizing:border-box;"></div>
<div class="a" style="left:541.00px;top:915.00px;width:71.00px;height:35.00px;background:#fff;border:3px solid #2f92d6;box-sizing:border-box;"></div>
<div class="t" style="left:149.59px;top:919.93px;font-family:'Liberation Sans',sans-serif;font-weight:normal;font-size:32.5px;line-height:32.5px;color:#3b3b3b;transform:scaleX(1.0823)">51,8 dg = 5,18 g</div>
<div class="t" style="left:620.91px;top:919.93px;font-family:'Liberation Sans',sans-serif;font-weight:normal;font-size:32.5px;line-height:32.5px;color:#3b3b3b;transform:scaleX(1.0849)">905 mg = 90,5 dg</div>
<div class="a" style="left:69.00px;top:973.50px;width:71.00px;height:35.00px;background:#fff;border:3px solid #2f92d6;box-sizing:border-box;"></div>
<div class="a" style="left:541.00px;top:973.50px;width:71.00px;height:35.00px;background:#fff;border:3px solid #2f92d6;box-sizing:border-box;"></div>
<div class="t" style="left:149.25px;top:978.43px;font-family:'Liberation Sans',sans-serif;font-weight:normal;font-size:32.5px;line-height:32.5px;color:#3b3b3b;transform:scaleX(1.0770)">70 g = 700 dag</div>
<div class="t" style="left:621.81px;top:978.43px;font-family:'Liberation Sans',sans-serif;font-weight:normal;font-size:32.5px;line-height:32.5px;color:#3b3b3b;transform:scaleX(1.0556)">4 000 cg = 40 dag</div>
<div class="a" style="left:69.00px;top:1032.00px;width:71.00px;height:35.00px;background:#fff;border:3px solid #2f92d6;box-sizing:border-box;"></div>
<div class="a" style="left:541.00px;top:1032.00px;width:71.00px;height:35.00px;background:#fff;border:3px solid #2f92d6;box-sizing:border-box;"></div>
<div class="t" style="left:149.41px;top:1036.43px;font-family:'Liberation Sans',sans-serif;font-weight:normal;font-size:32.5px;line-height:32.5px;color:#3b3b3b;transform:scaleX(1.0871)">8 kg = 800 g</div>
<div class="t" style="left:620.91px;top:1036.43px;font-family:'Liberation Sans',sans-serif;font-weight:normal;font-size:32.5px;line-height:32.5px;color:#3b3b3b;transform:scaleX(1.0849)">865 mg = 86,5 dg</div>
<div class="a" style="left:69.00px;top:1090.50px;width:71.00px;height:35.00px;background:#fff;border:3px solid #2f92d6;box-sizing:border-box;"></div>
<div class="a" style="left:541.00px;top:1090.50px;width:71.00px;height:35.00px;background:#fff;border:3px solid #2f92d6;box-sizing:border-box;"></div>
<div class="t" style="left:149.61px;top:1094.93px;font-family:'Liberation Sans',sans-serif;font-weight:normal;font-size:32.5px;line-height:32.5px;color:#3b3b3b;transform:scaleX(1.0706)">327,15 kg = 32 715 g</div>
<div class="t" style="left:621.10px;top:1094.93px;font-family:'Liberation Sans',sans-serif;font-weight:normal;font-size:32.5px;line-height:32.5px;color:#3b3b3b;transform:scaleX(1.0763)">0,45 Mg = 4 500 kg</div>
<div class="t" style="left:86.07px;top:1171.68px;font-family:'Liberation Serif',serif;font-weight:bold;font-size:26px;line-height:26px;color:#d0161c;transform:scaleX(1.1129)">Esegui le equivalenze.</div>
<div class="t" style="left:85.77px;top:1225.22px;font-family:'Liberation Serif',serif;font-weight:normal;-webkit-text-stroke:0.3px #141414;font-size:25px;line-height:25px;color:#141414;transform:scaleX(1.0909)">23 kg =</div>
<div class="t" style="left:174.80px;top:1225.22px;font-family:'Liberation Serif',serif;font-weight:normal;-webkit-text-stroke:0.3px #141414;font-size:25px;line-height:25px;color:#141414;transform:scaleX(0.8908)">.................</div>
<div class="t" style="left:275.27px;top:1225.22px;font-family:'Liberation Serif',serif;font-weight:normal;-webkit-text-stroke:0.3px #141414;font-size:25px;line-height:25px;color:#141414;transform:scaleX(1.1151)">dag</div>
<div class="t" style="left:84.63px;top:1281.32px;font-family:'Liberation Serif',serif;font-weight:normal;-webkit-text-stroke:0.3px #141414;font-size:25px;line-height:25px;color:#141414;transform:scaleX(1.1160)">15 hg =</div>
<div class="t" style="left:174.80px;top:1281.32px;font-family:'Liberation Serif',serif;font-weight:normal;-webkit-text-stroke:0.3px #141414;font-size:25px;line-height:25px;color:#141414;transform:scaleX(0.8908)">.................</div>
<div class="t" style="left:276.98px;top:1281.32px;font-family:'Liberation Serif',serif;font-weight:normal;-webkit-text-stroke:0.3px #141414;font-size:25px;line-height:25px;color:#141414;transform:scaleX(1.0417)">kg</div>
<div class="t" style="left:528.47px;top:1225.22px;font-family:'Liberation Serif',serif;font-weight:normal;-webkit-text-stroke:0.3px #141414;font-size:25px;line-height:25px;color:#141414;transform:scaleX(1.0976)">173 g =</div>
<div class="t" style="left:618.14px;top:1225.22px;font-family:'Liberation Serif',serif;font-weight:normal;-webkit-text-stroke:0.3px #141414;font-size:25px;line-height:25px;color:#141414;transform:scaleX(0.8971)">.................</div>
<div class="t" style="left:718.92px;top:1225.22px;font-family:'Liberation Serif',serif;font-weight:normal;-webkit-text-stroke:0.3px #141414;font-size:25px;line-height:25px;color:#141414;transform:scaleX(1.1052)">hg</div>
<div class="t" style="left:529.99px;top:1281.32px;font-family:'Liberation Serif',serif;font-weight:normal;-webkit-text-stroke:0.3px #141414;font-size:25px;line-height:25px;color:#141414;transform:scaleX(1.0817)">92 g =</div>
<div class="t" style="left:604.25px;top:1281.32px;font-family:'Liberation Serif',serif;font-weight:normal;-webkit-text-stroke:0.3px #141414;font-size:25px;line-height:25px;color:#141414;transform:scaleX(0.8922)">.................</div>
<div class="t" style="left:704.26px;top:1281.32px;font-family:'Liberation Serif',serif;font-weight:normal;-webkit-text-stroke:0.3px #141414;font-size:25px;line-height:25px;color:#141414;transform:scaleX(1.0839)">mg</div>
</body></html>
